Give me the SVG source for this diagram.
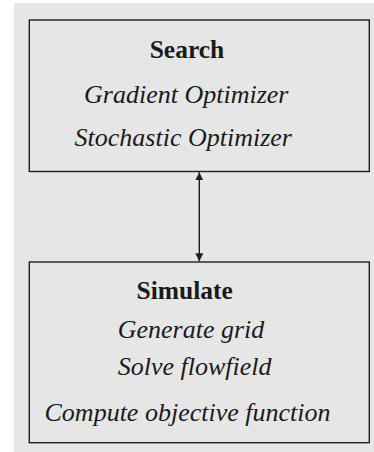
<svg xmlns="http://www.w3.org/2000/svg" width="374" height="452" viewBox="0 0 374 452">
  <style>
    .panel { fill: #e6e6e6; }
    .box { fill: #e6e6e6; stroke: #1f1f1f; stroke-width: 1.4; }
    .title { font-family: "Liberation Serif", serif; font-weight: bold; font-size: 25.5px; fill: #1a1a1a; text-anchor: middle; }
    .item { font-family: "Liberation Serif", serif; font-style: italic; font-size: 26px; fill: #1a1a1a; text-anchor: middle; }
    .link { stroke: #1f1f1f; stroke-width: 1.4; fill: none; }
  </style>
  <defs>
    <marker id="head" viewBox="0 0 10 10" refX="10" refY="5" markerWidth="8" markerHeight="9" markerUnits="userSpaceOnUse" orient="auto-start-reverse">
      <path d="M0,0 L10,5 L0,10 Z" fill="#1f1f1f"/>
    </marker>
  </defs>

  <rect class="panel" x="14" y="3" width="360" height="449"/>

  <g id="search">
    <rect class="box" x="29.3" y="20" width="340" height="151.5"/>
    <text class="title" x="187" y="58.3">Search</text>
    <text class="item" x="186.3" y="103.3">Gradient Optimizer</text>
    <text class="item" x="183.3" y="145.7">Stochastic Optimizer</text>
  </g>

  <g id="simulate">
    <rect class="box" x="29.3" y="262" width="340" height="180.7"/>
    <text class="title" x="184.7" y="299.3">Simulate</text>
    <text class="item" x="191" y="338.3">Generate grid</text>
    <text class="item" x="194.7" y="375">Solve flowfield</text>
    <text class="item" x="187.5" y="421">Compute objective function</text>
  </g>

  <g id="connectors">
    <line class="link" x1="199.3" y1="172.3" x2="199.3" y2="261.3" marker-start="url(#head)" marker-end="url(#head)"/>
  </g>
</svg>
